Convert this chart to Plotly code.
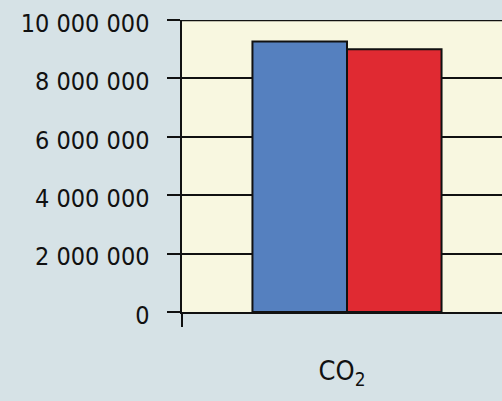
import plotly.graph_objects as go

categories = ["CO<sub>2</sub>"]
series_a = [9260000]
series_b = [9000000]
y_ticks = [0, 2000000, 4000000, 6000000, 8000000, 10000000]
y_max = 10000000

FONT = "DejaVu Sans Condensed, sans-serif"

fig = go.Figure()
fig.add_trace(go.Bar(x=categories, y=series_a, marker=dict(color="#5580BF", line=dict(color="#111111", width=2))))
fig.add_trace(go.Bar(x=categories, y=series_b, marker=dict(color="#E02A32", line=dict(color="#111111", width=2))))

fig.update_layout(
    width=502, height=401,
    margin=dict(l=182, r=0, t=20, b=89),
    paper_bgcolor="#D6E2E6",
    plot_bgcolor="#F8F7E0",
    barmode="group", bargap=0.427, bargroupgap=0,
    showlegend=False,
    separators=". ",
    font=dict(family=FONT, size=25, color="#111111"),
)
fig.update_xaxes(
    type="category", range=[-0.5, 0.4697],
    showline=True, linecolor="#111111", linewidth=2,
    ticks="outside", ticklen=13, tickwidth=2, tickcolor="#111111",
    tickson="boundaries", showgrid=False,
    ticklabelstandoff=34, ticklabelshift=-5,
    tickfont=dict(size=27),
)
fig.update_yaxes(
    range=[0, y_max], tickvals=y_ticks, tickformat=",d",
    showline=True, linecolor="#111111", linewidth=2.5,
    ticks="outside", ticklen=13, tickwidth=2, tickcolor="#111111",
    showgrid=True, gridcolor="#111111", gridwidth=2,
    zeroline=False, ticklabelstandoff=12, ticklabelshift=3,
)
fig.add_shape(type="line", xref="paper", x0=0, x1=1, yref="y", y0=y_max, y1=y_max,
              line=dict(color="#111111", width=2.5), layer="above")
fig.write_html("out.html", config={"displayModeBar": False, "staticPlot": True})

with open("out.html", encoding="utf-8") as fh:
    html = fh.read()
html = html.replace("<head>", "<head><style>html,body{margin:0;padding:0;overflow:hidden;}</style>", 1)
with open("out.html", "w", encoding="utf-8") as fh:
    fh.write(html)
